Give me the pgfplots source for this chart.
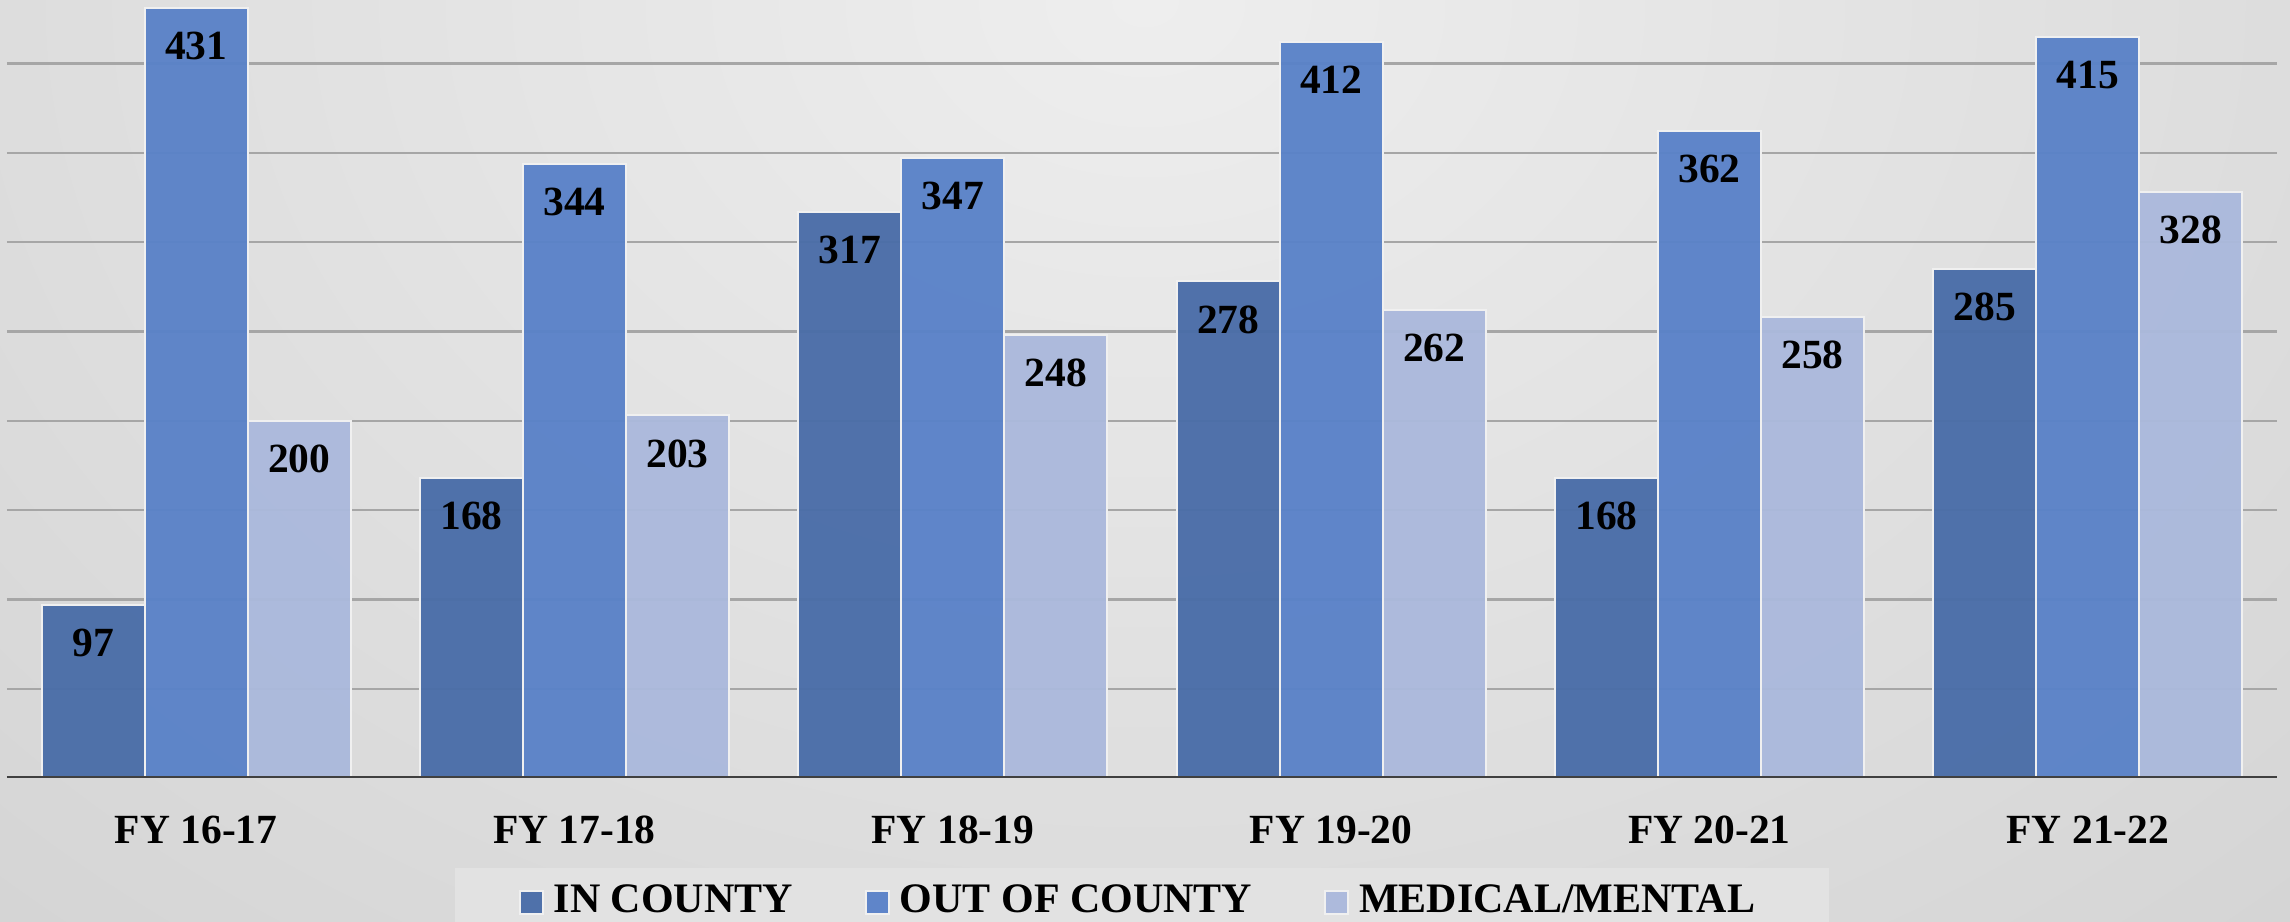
\documentclass[border=0pt]{standalone}
\usepackage{fontspec}
\setmainfont{Liberation Serif}
\usepackage{pgfplots}
\pgfplotsset{compat=1.18}
\definecolor{incounty}{HTML}{4A6DA8}
\definecolor{outcounty}{HTML}{5A82C8}
\definecolor{medical}{HTML}{ABB9DC}
\definecolor{bgin}{HTML}{EEEEEE}
\definecolor{bgout}{HTML}{C4C4C4}
\definecolor{gridc}{HTML}{A6A6A6}
\definecolor{basec}{HTML}{404040}
\definecolor{legbg}{HTML}{E2E2E2}

\begin{document}
\begin{tikzpicture}
% picture is 2290 x 922 px at 0.2pt per px
\useasboundingbox (0,0) rectangle (458pt,184.4pt);
\begin{scope}
  \clip (0,0) rectangle (458pt,184.4pt);
  \fill[bgout] (0,0) rectangle (458pt,184.4pt);
  \shade[inner color=bgin, outer color=bgout] (229pt,184pt) ellipse (560pt and 420pt);
\end{scope}
\begin{axis}[
  at={(1.4pt,28.8pt)}, anchor=south west,
  scale only axis, width=454pt, height=155.6pt,
  xmin=-0.5, xmax=5.5, ymin=0, ymax=435.6,
  ybar=0pt, bar width=20.6pt,
  axis line style={draw=none}, major tick length=0pt,
  xtick={0,...,5},
  xticklabels={FY 16-17, FY 17-18, FY 18-19, FY 19-20, FY 20-21, FY 21-22},
  ytick={50,100,...,400}, yticklabels={},
  ymajorgrids, grid style={gridc, line width=0.45pt},
  xticklabel style={font=\fontsize{8.3}{10}\selectfont\bfseries, anchor=center, yshift=-10.4pt},
  /pgf/number format/assume math mode=true,
  nodes near coords,
  every node near coord/.append style={font=\fontsize{8.3}{10}\selectfont\bfseries, anchor=center, yshift=-7.6pt, text=black},
  legend columns=3,
  legend image code/.code={\fill[#1] (0pt,-2.3pt) rectangle (4.6pt,2.3pt);},
  legend style={at={(0.5,-0.1139)}, anchor=north, draw=none, fill=legbg,
    font=\fontsize{8.4}{10}\selectfont\bfseries,
    inner xsep=12.7pt, inner ysep=0.7pt, column sep=0pt,
    nodes={inner xsep=2pt, inner ysep=2.76pt},
    /tikz/every even column/.append style={column sep=12.4pt}},
]
\addplot[fill=incounty, draw=white!88!gray, line width=0.4pt, fill opacity=0.96, text opacity=1]
  coordinates {(0,97) (1,168) (2,317) (3,278) (4,168) (5,285)};
\addplot[fill=outcounty, draw=white!88!gray, line width=0.4pt, fill opacity=0.96, text opacity=1]
  coordinates {(0,431) (1,344) (2,347) (3,412) (4,362) (5,415)};
\addplot[fill=medical, draw=white!88!gray, line width=0.4pt, fill opacity=0.96, text opacity=1]
  coordinates {(0,200) (1,203) (2,248) (3,262) (4,258) (5,328)};
\draw[basec, line width=0.65pt] (rel axis cs:0,0) -- (rel axis cs:1,0);
\legend{IN COUNTY, OUT OF COUNTY, MEDICAL/MENTAL}
\end{axis}
\end{tikzpicture}
\end{document}
